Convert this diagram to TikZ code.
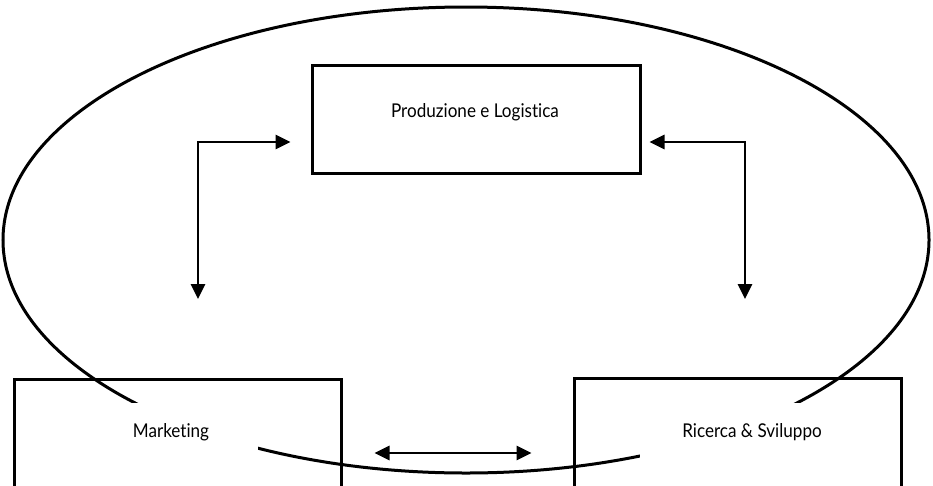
\documentclass[tikz,border=0pt]{standalone}
\usepackage{fontspec}
\setmainfont{Lato}[Ligatures=NoCommon]
\usetikzlibrary{arrows.meta}
\newcommand{\lbltxt}[1]{\scalebox{0.9}[1]{\fontsize{19}{22}\selectfont #1}}
\begin{document}
\begin{tikzpicture}[x=1pt,y=-1pt,
  boxnode/.style={draw,line width=3pt,inner sep=0pt,minimum width=#1},
  lbl/.style={inner sep=0pt,text=black},
  arr/.style={line width=2.8pt,{Triangle[length=15pt,width=14pt]}-{Triangle[length=15pt,width=14pt]}}]
\useasboundingbox (0,0) rectangle (933,485);
\clip (0,0) rectangle (933,485);
% ellipse
\draw[line width=3pt] (466,240) ellipse [x radius=463, y radius=233];
% white patches behind the texts
\fill[white] (17,403) rectangle (258,495);
\fill[white] (640,403) rectangle (898,495);
% boxes
\node[boxnode=328pt,minimum height=108pt] (pl) at (476,119) {};
\node[boxnode=327pt,minimum height=130pt] (mk) at (177.5,444) {};
\node[boxnode=327pt,minimum height=130pt] (rs) at (737.5,443) {};
% labels
\node[lbl] (plt) at (475,112) {\lbltxt{Produzione e Logistica}};
\node[lbl] (mkt) at (171,432) {\lbltxt{Marketing}};
\node[lbl] (rst) at (752,432) {\lbltxt{Ricerca \& Sviluppo}};
% connectors
\coordinate (lc) at (198,142);
\coordinate (ld) at (198,299);
\coordinate (rc) at (745,142);
\coordinate (rd) at (745,299);
\draw[arr] ([xshift=-20pt]pl.west |- lc) -- (lc) -- (ld);
\draw[arr] ([xshift=8pt]pl.east |- rc) -- (rc) -- (rd);
\draw[arr] ([xshift=32pt]mk.east |- 0,453) -- ([xshift=-41pt]rs.west |- 0,453);
\end{tikzpicture}
\end{document}
